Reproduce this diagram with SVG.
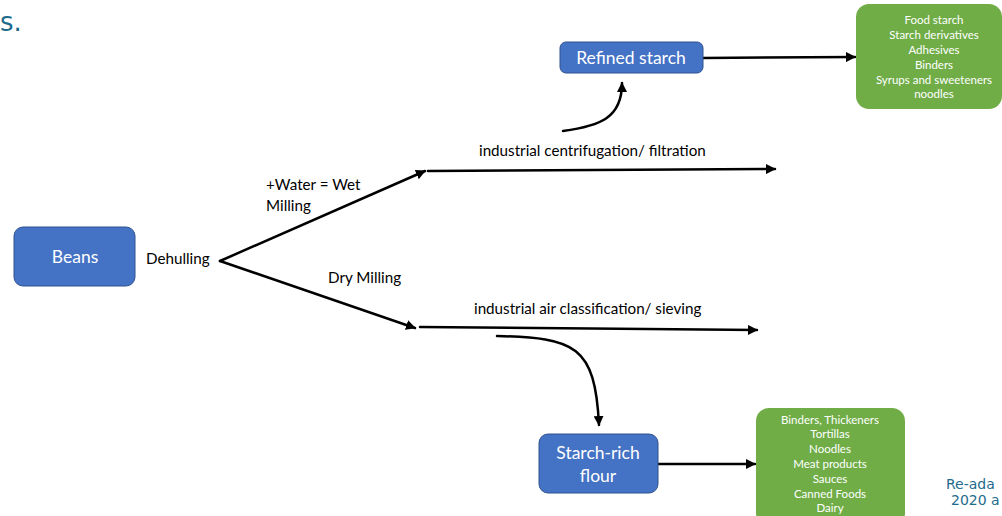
<svg xmlns="http://www.w3.org/2000/svg" width="1002" height="516" viewBox="0 0 1002 516">
<defs>
<marker id="ah" viewBox="0 0 10 10" refX="9" refY="5" markerWidth="4" markerHeight="4" orient="auto" markerUnits="strokeWidth">
<path d="M0,0 L10,5 L0,10 z" fill="#000"/>
</marker>
<style>
.blue{fill:#4472C4;stroke:#2F528F;stroke-width:1}
.green{fill:#70AD47;stroke:none}
.bt{font-family:Lato,"Open Sans",sans-serif;font-size:17.5px;fill:#fff;text-anchor:middle}
.gt{font-family:Lato,"Open Sans",sans-serif;font-size:11.5px;fill:#fff;text-anchor:middle}
.lbl{font-family:Lato,"Open Sans",sans-serif;font-size:15.2px;fill:#000}
.teal{font-family:"DejaVu Sans",Verdana,sans-serif;fill:#1F6B8C}
.c{fill:none;stroke:#000;stroke-width:2.5;stroke-linecap:round;marker-end:url(#ah)}
</style>
</defs>
<rect width="1002" height="516" fill="#fff"/>
<text class="teal" x="0" y="31" font-size="26">s.</text>
<text class="teal" x="946" y="489" font-size="14">Re-ada</text>
<text class="teal" x="951" y="505" font-size="14">2020 a</text>

<g id="connectors">
<line class="c" x1="220" y1="261" x2="425" y2="171"/>
<line class="c" x1="220" y1="261" x2="415" y2="328"/>
<line class="c" x1="428" y1="171" x2="775" y2="169"/>
<line class="c" x1="420" y1="327" x2="757" y2="330"/>
<path class="c" d="M563,131 C600,126 622,118 622,83"/>
<path class="c" d="M497,336 C575,338 595,345 599,425"/>
<line class="c" x1="703" y1="58" x2="855" y2="57"/>
<line class="c" x1="658" y1="464" x2="755" y2="464"/>
</g>

<g id="beans"><rect class="blue" x="14" y="227" width="121" height="59" rx="9"/><text class="bt" x="75" y="263">Beans</text></g>
<g id="refined"><rect class="blue" x="560" y="42" width="143" height="31" rx="6"/><text class="bt" x="631" y="64">Refined starch</text></g>
<g id="flour"><rect class="blue" x="539" y="434" width="119" height="59" rx="9"/><text class="bt" x="598" y="459">Starch-rich</text><text class="bt" x="598" y="482">flour</text></g>
<g id="uses-top"><rect class="green" x="856" y="4" width="146" height="105" rx="13"/>
<text class="gt" x="934" y="24">Food starch</text>
<text class="gt" x="934" y="39">Starch derivatives</text>
<text class="gt" x="934" y="54">Adhesives</text>
<text class="gt" x="934" y="69">Binders</text>
<text class="gt" x="934" y="84">Syrups and sweeteners</text>
<text class="gt" x="934" y="98">noodles</text>
</g>
<g id="uses-bottom"><rect class="green" x="756" y="408" width="149" height="118" rx="13"/>
<text class="gt" x="830" y="424">Binders, Thickeners</text>
<text class="gt" x="830" y="438">Tortillas</text>
<text class="gt" x="830" y="453">Noodles</text>
<text class="gt" x="830" y="468">Meat products</text>
<text class="gt" x="830" y="483">Sauces</text>
<text class="gt" x="830" y="498">Canned Foods</text>
<text class="gt" x="830" y="512">Dairy</text>
</g>
<g id="labels">
<text class="lbl" x="146" y="264">Dehulling</text>
<text class="lbl" x="266" y="190">+Water = Wet</text>
<text class="lbl" x="266" y="211">Milling</text>
<text class="lbl" x="328" y="283">Dry Milling</text>
<text class="lbl" x="479" y="156">industrial centrifugation/ filtration</text>
<text class="lbl" x="474" y="314">industrial air classification/ sieving</text>
</g>
</svg>
